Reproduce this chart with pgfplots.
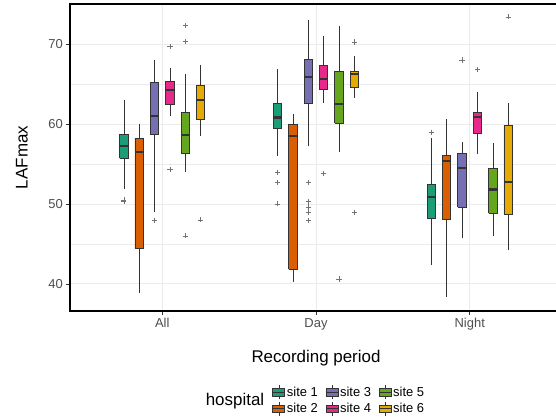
\documentclass[border=0pt]{standalone}
\usepackage{pgfplots}
\pgfplotsset{compat=1.18}
\usepackage{fontspec}
\setmainfont{Liberation Sans}
\definecolor{c1}{HTML}{1B9E77}
\definecolor{c2}{HTML}{D95F02}
\definecolor{c3}{HTML}{7570B3}
\definecolor{c4}{HTML}{E7298A}
\definecolor{c5}{HTML}{66A61E}
\definecolor{c6}{HTML}{E6AB02}
\definecolor{gridc}{HTML}{EBEBEB}
\definecolor{tickc}{HTML}{4D4D4D}
\definecolor{edge}{HTML}{333333}
\pgfplotsset{
  whisk/.style={forget plot, draw=edge, line width=0.6bp, mark=none, unbounded coords=jump},
  boxs/.style={forget plot, draw=edge, fill=#1, line width=0.9bp, mark=none, unbounded coords=jump, line join=miter},
  med/.style={forget plot, draw=edge, line width=2.2bp, mark=none, unbounded coords=jump, line cap=butt},
  outl/.style={forget plot, only marks, mark=+, mark size=2.6bp, mark options={draw=black!55, line width=0.5bp}},
  keyimg/.style={legend image code/.code={
    \draw[edge, line width=0.6bp] (6bp,-7bp) -- (6bp,7bp);
    \draw[fill=#1, draw=edge, line width=0.8bp] (0bp,-3.6bp) rectangle (12bp,3.6bp);
    \draw[edge, line width=1.2bp] (0bp,0bp) -- (12bp,0bp);
  }}
}
\begin{document}
\begin{tikzpicture}
\useasboundingbox (0,0) rectangle (556bp,419bp);
\begin{axis}[
  at={(70bp,108bp)}, anchor=south west,
  scale only axis, width=492bp, height=307bp,
  xmin=-0.6, xmax=2.6, ymin=36.6, ymax=75,
  xtick={0,1,2}, xticklabels={All,Day,Night},
  ytick={40,50,60,70}, minor ytick={45,55,65},
  /pgf/number format/assume math mode=true,
  tick align=outside, xtick pos=bottom, ytick pos=left,
  major tick length=3.7bp, minor tick length=0pt,
  tick style={color=edge, line width=0.6bp},
  ticklabel style={font=\fontsize{13}{13}\selectfont, text=tickc},
  grid=both,
  major grid style={gridc, line width=0.7bp},
  minor grid style={gridc, line width=0.35bp},
  axis line style={black, line width=1.1bp},
  xlabel={Recording period}, ylabel={LAFmax},
  every axis x label/.style={at={(axis description cs:0.5,-0.153)}, anchor=center, font=\fontsize{17}{17}\selectfont},
  every axis y label/.style={at={(axis description cs:-0.0976,0.5)}, rotate=90, anchor=center, font=\fontsize{17}{17}\selectfont},
  legend columns=3,
  legend cell align=left,
  legend style={at={(axis description cs:0.4106,-0.2915)}, anchor=west,
    draw=none, fill=none, inner sep=0pt, row sep=1.5bp,
    font=\fontsize{13}{13}\selectfont,
    nodes={inner sep=1.5bp},
    /tikz/every even column/.append style={column sep=6bp}},
]
% ===== site 1 (All, Day, Night) =====
\addplot[whisk] coordinates {(-0.25,51.8) (-0.25,63.0) (-0.25,nan) (0.75,55.95) (0.75,66.9) (0.75,nan) (1.75,42.3) (1.75,58.3)};
\addplot[boxs=c1] coordinates {(-0.2775,55.7) (-0.2225,55.7) (-0.2225,58.66) (-0.2775,58.66) (-0.2775,55.7) (-0.2775,nan)
  (0.7225,59.4) (0.7775,59.4) (0.7775,62.5) (0.7225,62.5) (0.7225,59.4) (0.7225,nan)
  (1.7225,48.2) (1.7775,48.2) (1.7775,52.4) (1.7225,52.4) (1.7225,48.2)};
\addplot[med] coordinates {(-0.2775,57.2) (-0.2225,57.2) (-0.2225,nan) (0.7225,60.8) (0.7775,60.8) (0.7775,nan) (1.7225,50.9) (1.7775,50.9)};
\addplot[outl] coordinates {(-0.25,50.5) (-0.25,50.3) (0.75,53.9) (0.75,52.7) (0.75,50.0) (1.75,58.95)};
% ===== site 2 =====
\addplot[whisk] coordinates {(-0.15,38.8) (-0.15,60.0) (-0.15,nan) (0.85,40.2) (0.85,61.3) (0.85,nan) (1.85,38.4) (1.85,60.6)};
\addplot[boxs=c2] coordinates {(-0.1775,44.4) (-0.1225,44.4) (-0.1225,58.2) (-0.1775,58.2) (-0.1775,44.4) (-0.1775,nan)
  (0.8225,41.8) (0.8775,41.8) (0.8775,59.9) (0.8225,59.9) (0.8225,41.8) (0.8225,nan)
  (1.8225,48.0) (1.8775,48.0) (1.8775,56.1) (1.8225,56.1) (1.8225,48.0)};
\addplot[med] coordinates {(-0.1775,56.45) (-0.1225,56.45) (-0.1225,nan) (0.8225,58.45) (0.8775,58.45) (0.8775,nan) (1.8225,55.4) (1.8775,55.4)};
% ===== site 3 =====
\addplot[whisk] coordinates {(-0.05,49.0) (-0.05,68.0) (-0.05,nan) (0.95,57.2) (0.95,73.0) (0.95,nan) (1.95,45.7) (1.95,57.8)};
\addplot[boxs=c3] coordinates {(-0.0775,58.7) (-0.0225,58.7) (-0.0225,65.2) (-0.0775,65.2) (-0.0775,58.7) (-0.0775,nan)
  (0.9225,62.6) (0.9775,62.6) (0.9775,68.1) (0.9225,68.1) (0.9225,62.6) (0.9225,nan)
  (1.9225,49.6) (1.9775,49.6) (1.9775,56.3) (1.9225,56.3) (1.9225,49.6)};
\addplot[med] coordinates {(-0.0775,61.0) (-0.0225,61.0) (-0.0225,nan) (0.9225,65.9) (0.9775,65.9) (0.9775,nan) (1.9225,54.5) (1.9775,54.5)};
\addplot[outl] coordinates {(-0.05,47.95) (0.95,52.7) (0.95,50.3) (0.95,49.6) (0.95,48.95) (0.95,47.9) (1.95,68.0)};
% ===== site 4 =====
\addplot[whisk] coordinates {(0.05,61.0) (0.05,67.0) (0.05,nan) (1.05,62.6) (1.05,70.95) (1.05,nan) (2.05,56.2) (2.05,63.95)};
\addplot[boxs=c4] coordinates {(0.0225,62.4) (0.0775,62.4) (0.0775,65.25) (0.0225,65.25) (0.0225,62.4) (0.0225,nan)
  (1.0225,64.3) (1.0775,64.3) (1.0775,67.3) (1.0225,67.3) (1.0225,64.3) (1.0225,nan)
  (2.0225,58.75) (2.0775,58.75) (2.0775,61.4) (2.0225,61.4) (2.0225,58.75)};
\addplot[med] coordinates {(0.0225,64.2) (0.0775,64.2) (0.0775,nan) (1.0225,65.6) (1.0775,65.6) (1.0775,nan) (2.0225,60.9) (2.0775,60.9)};
\addplot[outl] coordinates {(0.05,69.7) (0.05,54.3) (1.05,53.8) (2.05,66.8)};
% ===== site 5 =====
\addplot[whisk] coordinates {(0.15,54.0) (0.15,66.3) (0.15,nan) (1.15,56.5) (1.15,72.3) (1.15,nan) (2.15,45.95) (2.15,57.6)};
\addplot[boxs=c5] coordinates {(0.1225,56.3) (0.1775,56.3) (0.1775,61.45) (0.1225,61.45) (0.1225,56.3) (0.1225,nan)
  (1.1225,60.1) (1.1775,60.1) (1.1775,66.6) (1.1225,66.6) (1.1225,60.1) (1.1225,nan)
  (2.1225,48.8) (2.1775,48.8) (2.1775,54.4) (2.1225,54.4) (2.1225,48.8)};
\addplot[med] coordinates {(0.1225,58.66) (0.1775,58.66) (0.1775,nan) (1.1225,62.5) (1.1775,62.5) (1.1775,nan) (2.1225,51.8) (2.1775,51.8)};
\addplot[outl] coordinates {(0.15,72.3) (0.15,70.3) (0.15,46.0) (1.15,40.6)};
% ===== site 6 =====
\addplot[whisk] coordinates {(0.25,58.5) (0.25,67.4) (0.25,nan) (1.25,63.25) (1.25,68.45) (1.25,nan) (2.25,44.25) (2.25,62.6)};
\addplot[boxs=c6] coordinates {(0.2225,60.6) (0.2775,60.6) (0.2775,64.75) (0.2225,64.75) (0.2225,60.6) (0.2225,nan)
  (1.2225,64.6) (1.2775,64.6) (1.2775,66.6) (1.2225,66.6) (1.2225,64.6) (1.2225,nan)
  (2.2225,48.65) (2.2775,48.65) (2.2775,59.8) (2.2225,59.8) (2.2225,48.65)};
\addplot[med] coordinates {(0.2225,63.0) (0.2775,63.0) (0.2775,nan) (1.2225,66.2) (1.2775,66.2) (1.2775,nan) (2.2225,52.7) (2.2775,52.7)};
\addplot[outl] coordinates {(0.25,48.0) (1.25,70.25) (1.25,48.9) (2.25,73.4)};
% ---- legend ----
\addlegendimage{keyimg=c1}\addlegendentry{site 1}
\addlegendimage{keyimg=c3}\addlegendentry{site 3}
\addlegendimage{keyimg=c5}\addlegendentry{site 5}
\addlegendimage{keyimg=c2}\addlegendentry{site 2}
\addlegendimage{keyimg=c4}\addlegendentry{site 4}
\addlegendimage{keyimg=c6}\addlegendentry{site 6}
\end{axis}
\node[font=\fontsize{17}{17}\selectfont, anchor=center] at (235bp,18.3bp) {hospital};
\end{tikzpicture}
\end{document}
